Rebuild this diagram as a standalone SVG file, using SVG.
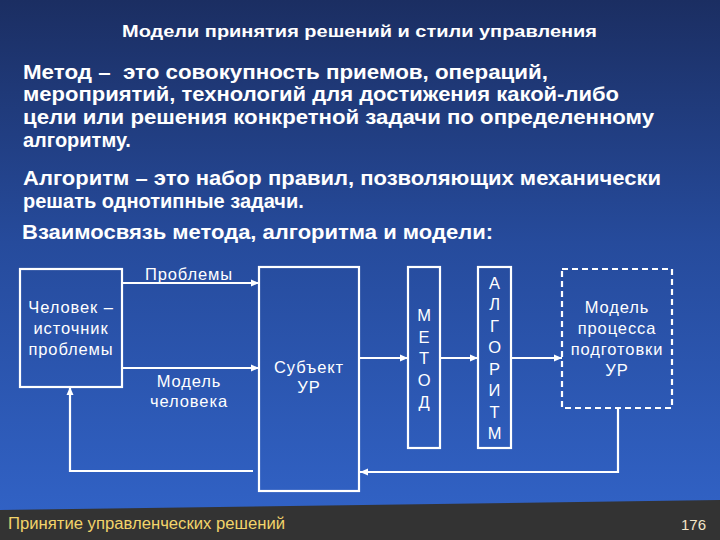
<svg xmlns="http://www.w3.org/2000/svg" width="720" height="540" viewBox="0 0 720 540">
<defs>
<linearGradient id="bg" x1="0" y1="0" x2="0" y2="1">
<stop offset="0" stop-color="#1b2e62"/>
<stop offset="0.45" stop-color="#264b9c"/>
<stop offset="1" stop-color="#3264c9"/>
</linearGradient>
<marker id="ah" markerUnits="userSpaceOnUse" markerWidth="10" markerHeight="10" viewBox="0 0 10 10" refX="9" refY="5" orient="auto">
<path d="M1,1.5 L9,5 L1,8.5 Z" fill="#ffffff"/>
</marker>
<style>
.t{font-family:"Liberation Sans",Arial,sans-serif;fill:#ffffff}
.title{font-size:17px;font-weight:bold}
.body{font-size:20px;font-weight:bold}
.lbl{font-size:16.5px;text-anchor:middle;letter-spacing:0.9px}
.box{fill:none;stroke:#ffffff;stroke-width:2.2}
.dash{fill:none;stroke:#ffffff;stroke-width:2.2;stroke-dasharray:6 4}
.conn{fill:none;stroke:#ffffff;stroke-width:2.2}
</style>
</defs>
<rect x="0" y="0" width="720" height="540" fill="url(#bg)"/>
<polygon points="0,510 720,500 720,540 0,540" fill="#333333"/>

<text class="t title" x="122" y="37" textLength="475" lengthAdjust="spacingAndGlyphs">Модели принятия решений и стили управления</text>

<g id="text-body">
<text class="t body" x="23" y="79" textLength="525" lengthAdjust="spacingAndGlyphs">Метод –&#160; это совокупность приемов, операций,</text>
<text class="t body" x="23" y="101" textLength="596" lengthAdjust="spacingAndGlyphs">мероприятий, технологий для достижения какой-либо</text>
<text class="t body" x="23" y="124" textLength="631" lengthAdjust="spacingAndGlyphs">цели или решения конкретной задачи по определенному</text>
<text class="t body" x="23" y="147">алгоритму.</text>
<text class="t body" x="23" y="185" textLength="638" lengthAdjust="spacingAndGlyphs">Алгоритм – это набор правил, позволяющих механически</text>
<text class="t body" x="23" y="208">решать однотипные задачи.</text>
<text class="t body" x="22" y="239" textLength="471" lengthAdjust="spacingAndGlyphs">Взаимосвязь метода, алгоритма и модели:</text>
</g>

<g id="connectors">
<line class="conn" x1="122" y1="283" x2="259" y2="283" marker-end="url(#ah)"/>
<line class="conn" x1="122" y1="368" x2="259" y2="368" marker-end="url(#ah)"/>
<line class="conn" x1="359" y1="358" x2="408" y2="358" marker-end="url(#ah)"/>
<line class="conn" x1="440" y1="358" x2="478" y2="358" marker-end="url(#ah)"/>
<line class="conn" x1="511" y1="358" x2="562" y2="358" marker-end="url(#ah)"/>
<path class="conn" d="M618,408 V472 H360" marker-end="url(#ah)"/>
<path class="conn" d="M253,471 H70 V387" marker-end="url(#ah)"/>
</g>

<g id="node-chelovek">
<rect class="box" x="20" y="269" width="102" height="118"/>
<text class="t lbl" x="71" y="313">Человек –</text>
<text class="t lbl" x="71" y="334">источник</text>
<text class="t lbl" x="71" y="355">проблемы</text>
</g>

<g id="label-problemy">
<text class="t lbl" x="189" y="280">Проблемы</text>
</g>
<g id="label-model-cheloveka">
<text class="t lbl" x="189" y="387">Модель</text>
<text class="t lbl" x="189" y="407">человека</text>
</g>

<g id="node-subekt">
<rect class="box" x="259" y="267" width="100" height="224"/>
<text class="t lbl" x="309" y="373">Субъект</text>
<text class="t lbl" x="309" y="393">УР</text>
</g>

<g id="node-metod">
<rect class="box" x="408" y="267" width="32" height="181"/>
<text class="t lbl" x="424.5" y="321">М</text>
<text class="t lbl" x="424.5" y="343">Е</text>
<text class="t lbl" x="424.5" y="364">Т</text>
<text class="t lbl" x="424.5" y="386">О</text>
<text class="t lbl" x="424.5" y="408">Д</text>
</g>

<g id="node-algoritm">
<rect class="box" x="478" y="267" width="33" height="181"/>
<text class="t lbl" x="495" y="289">А</text>
<text class="t lbl" x="495" y="310">Л</text>
<text class="t lbl" x="495" y="332">Г</text>
<text class="t lbl" x="495" y="353">О</text>
<text class="t lbl" x="495" y="375">Р</text>
<text class="t lbl" x="495" y="396">И</text>
<text class="t lbl" x="495" y="418">Т</text>
<text class="t lbl" x="495" y="439">М</text>
</g>

<g id="node-model-processa">
<rect class="dash" x="562" y="269" width="110" height="139"/>
<text class="t lbl" x="617" y="313">Модель</text>
<text class="t lbl" x="617" y="334">процесса</text>
<text class="t lbl" x="617" y="355">подготовки</text>
<text class="t lbl" x="617" y="376">УР</text>
</g>

<g id="footer">
<text x="8" y="529" font-family="Liberation Sans, Arial, sans-serif" font-size="16" fill="#f2d46a" textLength="277" lengthAdjust="spacingAndGlyphs">Принятие управленческих решений</text>
<text x="706" y="530" font-family="Liberation Sans, Arial, sans-serif" font-size="15" fill="#f3e6c8" text-anchor="end">176</text>
</g>
</svg>
